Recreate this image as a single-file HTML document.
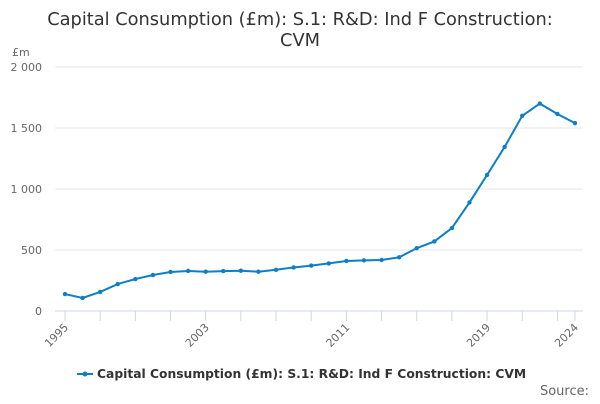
<!DOCTYPE html>
<html><head><meta charset="utf-8"><style>
body{margin:0;background:#fff;font-family:"DejaVu Sans","Liberation Sans",sans-serif;}
svg{font-family:"DejaVu Sans","Liberation Sans",sans-serif;}
</style></head><body>
<svg id="c" width="600" height="400" xmlns="http://www.w3.org/2000/svg">
<text x="300" y="25" text-anchor="middle" font-size="17.8" fill="#333">Capital Consumption (£m): S.1: R&amp;D: Ind F Construction:</text>
<text x="300" y="46" text-anchor="middle" font-size="17.8" fill="#333">CVM</text>
<text x="12" y="56" font-size="11" fill="#666">£m</text>
<g id="grid"></g><g id="xt"></g><g id="series"></g>
<g>
<line x1="77" y1="374" x2="93" y2="374" stroke="#0c7fc6" stroke-width="2"/>
<circle cx="85" cy="374" r="2.5" fill="#0c7fc6"/>
<text x="97" y="378" font-size="12.3" font-weight="bold" fill="#333">Capital Consumption (£m): S.1: R&amp;D: Ind F Construction: CVM</text>
</g>
<text x="589" y="395" text-anchor="end" font-size="13" fill="#666">Source:</text>
</svg>
<script>
const years=[1995,1996,1997,1998,1999,2000,2001,2002,2003,2004,2005,2006,2007,2008,2009,2010,2011,2012,2013,2014,2015,2016,2017,2018,2019,2020,2021,2022,2023,2024];
const values=[139,107,156,221,262,295,320,328,322,327,330,322,338,357,372,390,410,415,418,440,515,570,680,890,1115,1345,1600,1700,1615,1540];
const yTicks=[0,500,1000,1500,2000];
const yTickLabels=["0","500","1 000","1 500","2 000"];
const xLabels=[1995,2003,2011,2019,2024];
const NS="http://www.w3.org/2000/svg";
const X=y=>65+(y-1995)*(510/29), Y=v=>311-v*(244/2000);
function el(t,a,p){const e=document.createElementNS(NS,t);for(const k in a)e.setAttribute(k,a[k]);p.appendChild(e);return e;}
const g=document.getElementById('grid');
yTicks.forEach((t,i)=>{
 const l=el('line',{x1:55,x2:583,y1:Y(t),y2:Y(t),stroke:t===0?'#ccd6eb':'#e6e6e6'},g);
 
 
 const tx=el('text',{x:42,y:Y(t)+4,'text-anchor':'end','font-size':11,fill:'#666'},g);
 tx.textContent=yTickLabels[i];
 
 
});
const xt=document.getElementById('xt');
for(let y=1995;y<=2024;y+=2){
 const l=el('line',{x1:X(y),x2:X(y),y1:311,y2:321,stroke:'#ccd6eb'},xt);
 
 
}
el('line',{x1:X(2024),x2:X(2024),y1:311,y2:321,stroke:'#ccd6eb'},xt);
xLabels.forEach(y=>{
 const t=el('text',{x:X(y)+4,y:328,'text-anchor':'end','font-size':11,fill:'#666',transform:`rotate(-45 ${X(y)+4} 328)`},xt);
 t.textContent=y;
 
 
});
const s=document.getElementById('series');
const p=el('polyline',{points:years.map((y,i)=>X(y)+','+Y(values[i])).join(' '),fill:'none',stroke:'#0c7fc6','stroke-width':2},s);


years.forEach((y,i)=>{
 const c=el('circle',{cx:X(y),cy:Y(values[i]),r:2.2,fill:'#0c7fc6'},s);
 
 
});
</script>
</body></html>
